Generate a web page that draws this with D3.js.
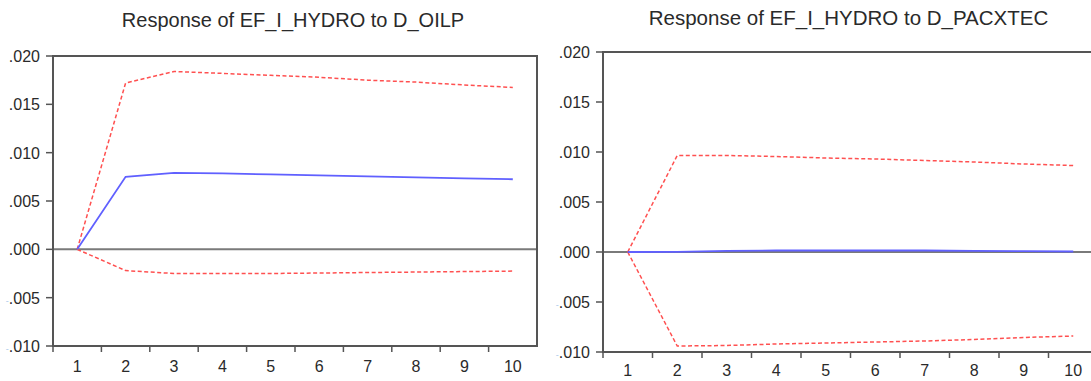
<!DOCTYPE html>
<html>
<head>
<meta charset="utf-8">
<script src="https://cdn.jsdelivr.net/npm/d3@7"></script>
<style>
  body { margin: 0; background: #fff; }
  svg { display: block; }
  text { font-family: "Liberation Sans", Arial, sans-serif; fill: #2a2a2a; }
</style>
</head>
<body>
<svg id="chart" width="1091" height="381"></svg>
<script>
// periods on the x axis
const periods = [1, 2, 3, 4, 5, 6, 7, 8, 9, 10];
const yTicks = [0.020, 0.015, 0.010, 0.005, 0.000, -0.005, -0.010];

// Response of EF_I_HYDRO to D_OILP
const oilpResponse = [0, 0.0075, 0.0079, 0.00785, 0.00775, 0.00765, 0.00755, 0.00745, 0.00735, 0.00725];
const oilpUpper    = [0, 0.0172, 0.0184, 0.0182, 0.0180, 0.0178, 0.0175, 0.0173, 0.0170, 0.01675];
const oilpLower    = [0, -0.0022, -0.0025, -0.0025, -0.0025, -0.00245, -0.0024, -0.00235, -0.0023, -0.00225];

// Response of EF_I_HYDRO to D_PACXTEC
const pacResponse = [0, 0.00002, 0.00012, 0.00015, 0.00015, 0.00015, 0.00015, 0.00012, 0.00008, 0.00005];
const pacUpper    = [0, 0.00965, 0.00965, 0.00955, 0.0094, 0.0093, 0.00915, 0.0090, 0.0088, 0.00865];
const pacLower    = [0, -0.0094, -0.00935, -0.0092, -0.0091, -0.0090, -0.0089, -0.00875, -0.00855, -0.0084];

const svg = d3.select("#chart");

function fmt(v) {
  return Math.abs(v).toFixed(3).replace(/^0/, "");
}

function drawPanel(p) {
  const g = svg.append("g");
  const x = d3.scaleBand().domain(periods).range([p.left, p.right]);
  const y = d3.scaleLinear().domain([-0.010, 0.020]).range([p.bottom, p.top]);

  // title
  g.append("text")
    .attr("x", (p.left + p.right) / 2 - 2)
    .attr("y", p.titleY)
    .attr("text-anchor", "middle")
    .style("font-size", p.titleSize)
    .text(p.title);

  // zero line
  g.append("line")
    .attr("x1", p.left).attr("x2", p.right)
    .attr("y1", y(0)).attr("y2", y(0))
    .attr("stroke", "#7a7a7a").attr("stroke-width", 2);

  const line = d3.line()
    .x((d, i) => x(periods[i]) + x.bandwidth() / 2)
    .y(d => y(d));

  [p.upper, p.lower].forEach(s => {
    g.append("path")
      .attr("d", line(s))
      .attr("fill", "none")
      .attr("stroke", "#ff5050")
      .attr("stroke-width", 1.5)
      .attr("stroke-dasharray", "4,2.5");
  });

  g.append("path")
    .attr("d", line(p.response))
    .attr("fill", "none")
    .attr("stroke", "#6060ff")
    .attr("stroke-width", 1.8);

  // frame
  g.append("rect")
    .attr("x", p.left).attr("y", p.top)
    .attr("width", p.right - p.left).attr("height", p.bottom - p.top)
    .attr("fill", "none")
    .attr("stroke", "#555").attr("stroke-width", 2);

  // y axis ticks and labels
  yTicks.forEach(t => {
    g.append("line")
      .attr("x1", p.left - 7).attr("x2", p.left)
      .attr("y1", y(t)).attr("y2", y(t))
      .attr("stroke", "#555").attr("stroke-width", 1.5);
    const txt = g.append("text")
      .attr("x", p.left - 13)
      .attr("y", y(t) + 6)
      .attr("text-anchor", "end")
      .style("font-size", "16px");
    if (t < 0) {
      txt.append("tspan").attr("fill", "#a9c8ea").style("font-size", "9px").text("-");
    }
    txt.append("tspan").text(fmt(t));
  });

  // x axis ticks at band edges, labels at centres
  periods.forEach(d => {
    g.append("line")
      .attr("x1", x(d)).attr("x2", x(d))
      .attr("y1", p.bottom).attr("y2", p.bottom + 6)
      .attr("stroke", "#555").attr("stroke-width", 1.5);
    g.append("text")
      .attr("x", x(d) + x.bandwidth() / 2)
      .attr("y", p.bottom + p.labelDy)
      .attr("text-anchor", "middle")
      .style("font-size", "16px")
      .text(d);
  });
}

drawPanel({
  title: "Response of EF_I_HYDRO to D_OILP",
  left: 53, right: 537, top: 56, bottom: 346, titleY: 27, titleSize: "20px", labelDy: 26,
  response: oilpResponse, upper: oilpUpper, lower: oilpLower
});

drawPanel({
  title: "Response of EF_I_HYDRO to D_PACXTEC",
  left: 603, right: 1098, top: 52, bottom: 352, titleY: 25, titleSize: "20.5px", labelDy: 24,
  response: pacResponse, upper: pacUpper, lower: pacLower
});
</script>
</body>
</html>
